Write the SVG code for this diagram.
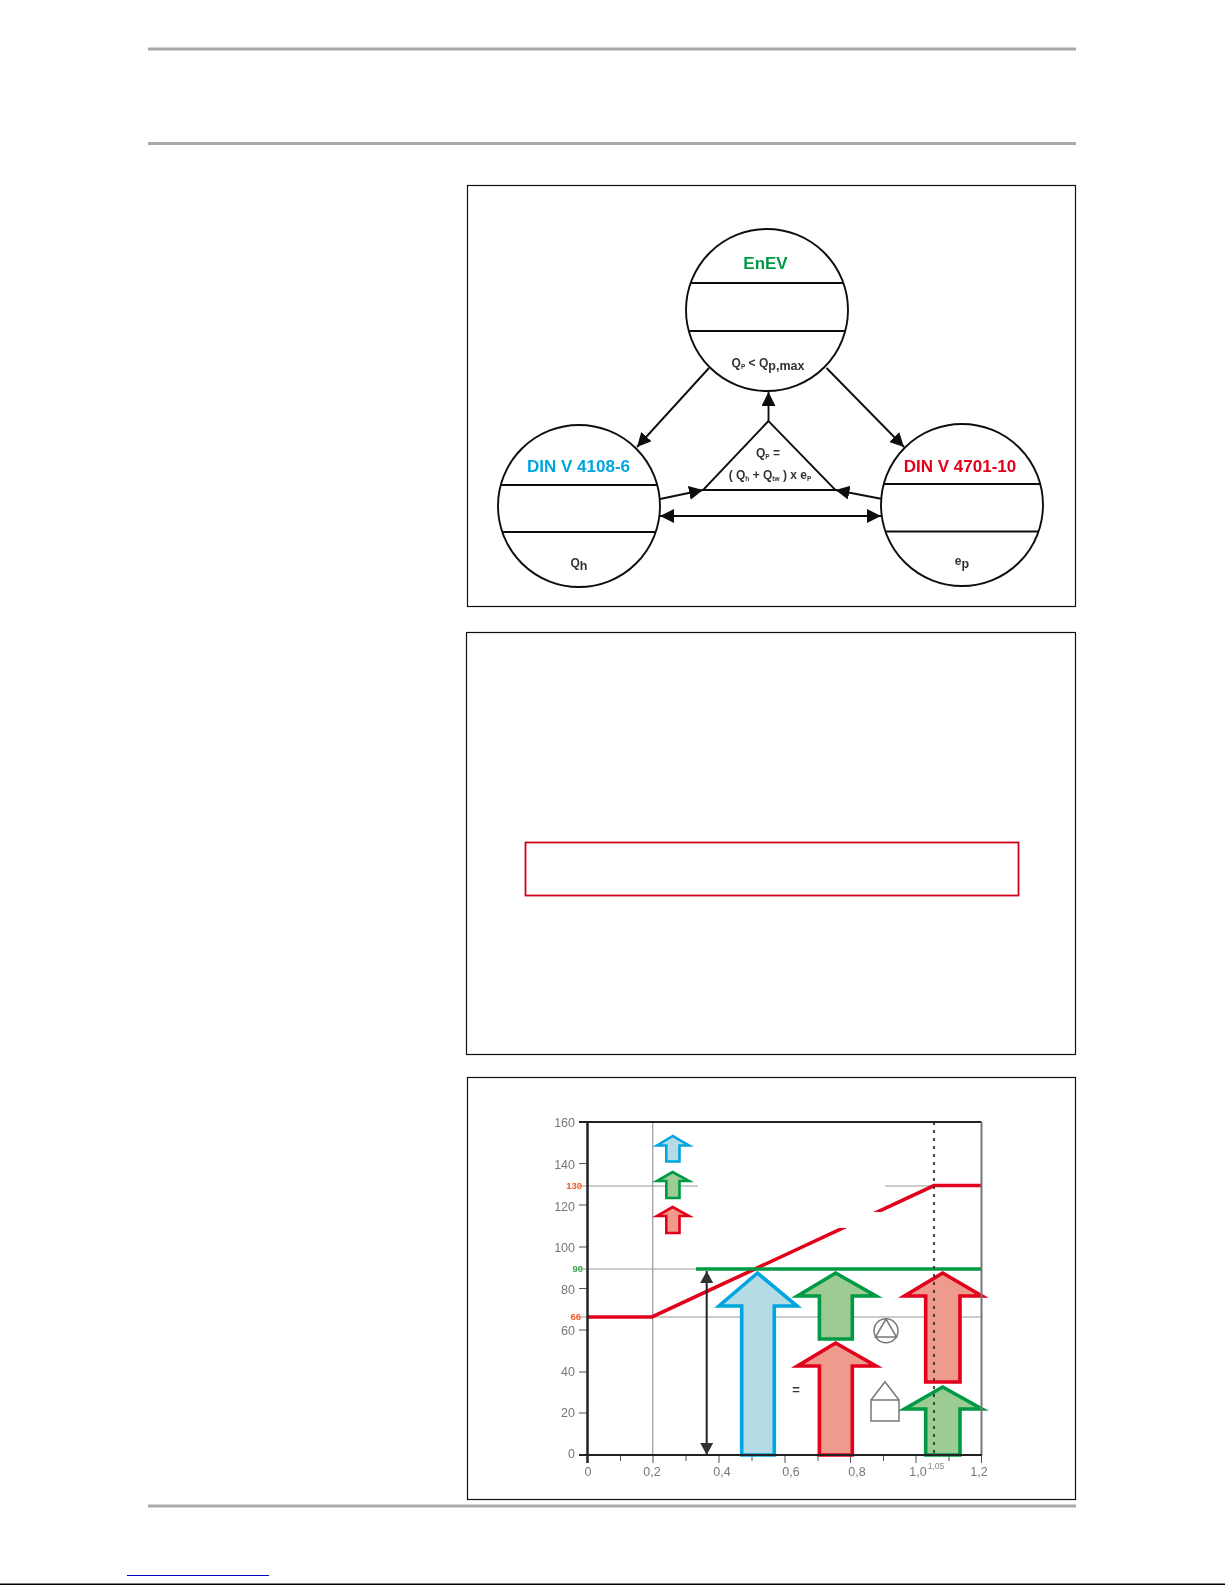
<svg xmlns="http://www.w3.org/2000/svg" width="1225" height="1585" viewBox="0 0 1225 1585">
<style>
text{font-family:"Liberation Sans",Arial,sans-serif}
.rule{stroke:#a9a9a9;stroke-width:3;fill:none}
.panel{fill:#fff;stroke:#111;stroke-width:1.2}
.node{fill:#fff;stroke:#111;stroke-width:1.900}
.chord{stroke:#111;stroke-width:1.900;fill:none}
.cn{stroke:#111;stroke-width:1.900;fill:none}
.h{font-size:17px;font-weight:bold;text-anchor:middle}
.f{font-size:12px;font-weight:bold;text-anchor:middle;fill:#333}
.sub{font-size:6.500px}
.sub2{font-size:12.500px}
.ax{font-size:12.500px;fill:#777;text-anchor:end}
.ax2{font-size:12.500px;fill:#777;text-anchor:middle}
.tick{stroke:#555;stroke-width:1;fill:none}
.grid{stroke:#999;stroke-width:1.200;fill:none}
.ab,.ag,.ar{stroke-width:3.600;stroke-miterlimit:8}
.ab{fill:#b5dbe5;stroke:#00a6e0}
.ag{fill:#9ccb94;stroke:#009a44}
.ar{fill:#ee9a8c;stroke:#e2001a}
.icon{fill:none;stroke:#777;stroke-width:1.500}
.v{font-size:9.500px;font-weight:bold;text-anchor:end}
.soft{filter:url(#soft)}
.leg{stroke-width:2.600}
</style>
<defs>
<filter id="soft" x="-5%" y="-5%" width="110%" height="110%"><feGaussianBlur stdDeviation="0.45"/></filter>
<marker id="ah" markerUnits="userSpaceOnUse" markerWidth="16" markerHeight="16" refX="14" refY="7" orient="auto-start-reverse"><path d="M0 0L14 7L0 14Z" fill="#111"/></marker>
<marker id="ad" markerUnits="userSpaceOnUse" markerWidth="16" markerHeight="16" refX="12" refY="6.500" orient="auto-start-reverse"><path d="M0 0L12 6.500L0 13Z" fill="#333"/></marker>
</defs>
<rect width="1225" height="1585" fill="#fff"/>
<g id="rules">
<line class="rule" x1="148" y1="49" x2="1076" y2="49"/>
<line class="rule" x1="148" y1="143.500" x2="1076" y2="143.500"/>
<line class="rule" x1="148" y1="1506" x2="1076" y2="1506"/>
<line x1="127" y1="1575.500" x2="269" y2="1575.500" stroke="#0000c8" stroke-width="1"/>
<line x1="0" y1="1584.300" x2="1225" y2="1584.300" stroke="#000" stroke-width="1.400"/>
</g>
<rect id="panel-1" class="panel" x="467.500" y="185.500" width="608" height="421"/>
<rect id="panel-2" class="panel" x="466.500" y="632.500" width="609" height="422"/>
<rect id="panel-3" class="panel" x="467.500" y="1077.500" width="608" height="422"/>
<rect id="note-box" x="525.500" y="842.500" width="493" height="53" fill="#fff" stroke="#d0021b" stroke-width="1.800"/>
<g id="connectors" class="soft">
<line class="cn" x1="709" y1="368" x2="637" y2="447" marker-end="url(#ah)"/>
<line class="cn" x1="826.500" y1="368" x2="904" y2="447" marker-end="url(#ah)"/>
<line class="cn" x1="768.500" y1="421" x2="768.500" y2="392" marker-end="url(#ah)"/>
<line class="cn" x1="660" y1="499" x2="703" y2="490" marker-end="url(#ah)"/>
<line class="cn" x1="881" y1="498.700" x2="835.500" y2="490" marker-end="url(#ah)"/>
<line class="cn" x1="660" y1="516" x2="881" y2="516" marker-start="url(#ah)" marker-end="url(#ah)"/>
</g>
<g id="node-enev" class="soft">
<circle class="node" cx="767" cy="310" r="81"/>
<line class="chord" x1="690.600" y1="283" x2="843.400" y2="283"/>
<line class="chord" x1="688.800" y1="331" x2="845.200" y2="331"/>
<text class="h" x="765.500" y="269" fill="#009a44">EnEV</text>
<text class="f" x="768" y="367">Q<tspan class="sub" dy="2">P</tspan><tspan dy="-2"> &lt; Q</tspan><tspan class="sub2" dy="3">p,max</tspan></text>
</g>
<g id="node-din4108" class="soft">
<circle class="node" cx="579" cy="506" r="81"/>
<line class="chord" x1="500.800" y1="485" x2="657.200" y2="485"/>
<line class="chord" x1="502.300" y1="532" x2="655.700" y2="532"/>
<text class="h" x="578.500" y="472" fill="#00a6e0">DIN V 4108-6</text>
<text class="f" x="579" y="567">Q<tspan class="sub2" dy="3">h</tspan></text>
</g>
<g id="node-din4701" class="soft">
<circle class="node" cx="962" cy="505" r="81"/>
<line class="chord" x1="883.800" y1="484" x2="1040.200" y2="484"/>
<line class="chord" x1="885.300" y1="531.500" x2="1038.700" y2="531.500"/>
<text class="h" x="960" y="472" fill="#e2001a">DIN V 4701-10</text>
<text class="f" x="962" y="565">e<tspan class="sub2" dy="3">p</tspan></text>
</g>
<g id="node-formula" class="soft">
<path class="node" d="M768.500 421L703 490H835.500Z"/>
<text class="f" x="768" y="457">Q<tspan class="sub" dy="2">P</tspan><tspan dy="-2"> =</tspan></text>
<text class="f" x="770" y="479">( Q<tspan class="sub" dy="2">h</tspan><tspan dy="-2"> + Q</tspan><tspan class="sub" dy="2">tw</tspan><tspan dy="-2"> ) x e</tspan><tspan class="sub" dy="2">P</tspan></text>
</g>
<g id="chart" class="soft">
<line class="grid" x1="652.700" y1="1122" x2="652.700" y2="1455" stroke="#bbb" stroke-width="1.600"/>
<path class="grid" d="M579 1186H698M885 1186H934M579 1269H700M579 1317H981"/>
<path class="tick" d="M579 1122H587M579 1163.600H587M579 1205H587M579 1247H587M579 1288.500H587M579 1330H587M579 1372H587M579 1413H587M579 1455H587"/>
<path class="tick" d="M587.500 1455V1463M620.500 1455V1461M653 1455V1463M686 1455V1461M719 1455V1463M752 1455V1461M785 1455V1463M818 1455V1461M850.500 1455V1463M883.500 1455V1461M916 1455V1463M949 1455V1461M981.500 1455V1463"/>
<text class="ax" x="575" y="1127">160</text>
<text class="ax" x="575" y="1169">140</text>
<text class="ax" x="575" y="1211">120</text>
<text class="ax" x="575" y="1252">100</text>
<text class="ax" x="575" y="1294">80</text>
<text class="ax" x="575" y="1335">60</text>
<text class="ax" x="575" y="1376">40</text>
<text class="ax" x="575" y="1417">20</text>
<text class="ax" x="575" y="1458">0</text>
<text class="ax2" x="588" y="1476">0</text>
<text class="ax2" x="652" y="1476">0,2</text>
<text class="ax2" x="722" y="1476">0,4</text>
<text class="ax2" x="791" y="1476">0,6</text>
<text class="ax2" x="857" y="1476">0,8</text>
<text class="ax2" x="918" y="1476">1,0</text>
<text class="ax2" x="979" y="1476">1,2</text>
<text x="936" y="1469" text-anchor="middle" font-size="8.500" fill="#888">1,05</text>
<text class="v" x="582" y="1189" fill="#ef5a28">130</text>
<text class="v" x="583" y="1272" fill="#3aa655">90</text>
<text class="v" x="581" y="1320" fill="#ef5a28">66</text>
<path d="M587 1317H652L934 1185.500H981" fill="none" stroke="#e2001a" stroke-width="3.600"/>
<rect x="835" y="1212" width="50" height="16" fill="#fff"/>
<path class="ab" d="M757.500 1273L719 1306H741.700V1455H774.300V1306H797Z"/>
<path class="ar" d="M835.700 1343L797.500 1366H819.400V1455H852.300V1366H876Z"/>
<path class="ag" d="M835.700 1273L797.500 1296H819.400V1339H852.300V1296H876Z"/>
<path class="ag" d="M942.700 1387L904.500 1409H925.700V1455H960V1409H982Z"/>
<path class="ar" d="M942.700 1273L904.500 1296H925.700V1382H960V1296H982Z"/>
<path d="M696 1269H981" fill="none" stroke="#009a44" stroke-width="3.500"/>
<path class="ab leg" d="M672.700 1136L657 1145.500H666.300V1161.500H679.500V1145.500H689Z"/>
<path class="ag leg" d="M672.700 1172L657 1181H666.300V1198H679.500V1181H689Z"/>
<path class="ar leg" d="M672.700 1207L657 1216H666.300V1233H679.500V1216H689Z"/>
<line x1="706.700" y1="1271" x2="706.700" y2="1455" stroke="#222" stroke-width="2" marker-start="url(#ad)" marker-end="url(#ad)"/>
<line x1="934" y1="1122" x2="934" y2="1455" stroke="#333" stroke-width="1.800" stroke-dasharray="3 5"/>
<path d="M587.500 1122H981.500" fill="none" stroke="#222" stroke-width="2"/>
<path d="M981.500 1122V1455" fill="none" stroke="#777" stroke-width="2"/>
<path d="M587.500 1122V1463" fill="none" stroke="#222" stroke-width="2.500"/>
<path d="M579 1122H590M579 1455H982" fill="none" stroke="#222" stroke-width="2.200"/>
<g id="pump-icon"><circle class="icon" cx="886" cy="1330.700" r="12"/><path class="icon" d="M886 1319L875.500 1337H896.500Z"/></g>
<g id="house-icon"><path class="icon" d="M871 1400H899V1421H871ZM871 1400L885 1381.700L899 1400"/></g>
<text x="796" y="1394" text-anchor="middle" font-size="13" font-weight="bold" fill="#333">=</text>
</g>
</svg>
